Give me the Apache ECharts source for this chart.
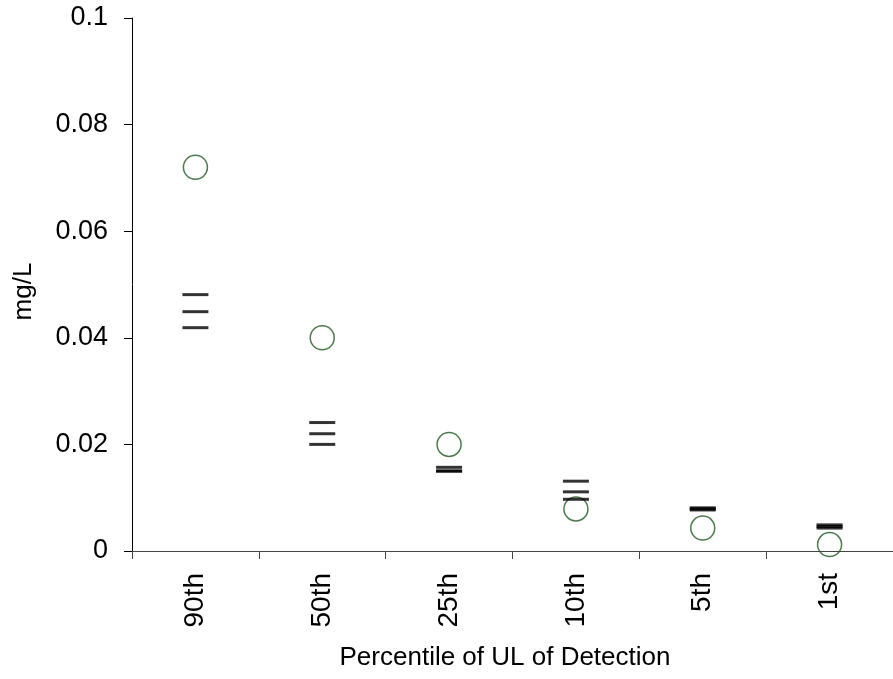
<!DOCTYPE html>
<html>
<head>
<meta charset="utf-8">
<style>
  html, body { margin: 0; padding: 0; background: #ffffff; }
  #chart { width: 893px; height: 679px; }
</style>
<script src="https://cdn.jsdelivr.net/npm/echarts@6/dist/echarts.min.js"></script>
</head>
<body>
<div id="chart"></div>
<script>
// Percentile categories along the x axis
const categories = ['90th', '50th', '25th', '10th', '5th', '1st'];

// Circle markers (mg/L)
const circleValues = [0.0720, 0.0400, 0.0200, 0.0079, 0.0043, 0.0012];

// Horizontal dash markers (mg/L): upper, middle, lower
const dashUpper  = [0.0481, 0.0241, 0.0157, 0.0131, 0.0081, 0.0049];
const dashMiddle = [0.0449, 0.0220, 0.0150, 0.0111, 0.0079, 0.0046];
const dashLower  = [0.0419, 0.0200, 0.0150, 0.0097, 0.0077, 0.0043];

// y axis ticks
const yMin = 0, yMax = 0.1, yStep = 0.02;

const font = 'Liberation Sans, Arial, sans-serif';

function dashSeries(values) {
  return {
    type: 'scatter',
    data: values,
    symbol: 'rect',
    symbolSize: [26, 3],
    itemStyle: { color: '#000000' },
    z: 5,
    silent: true
  };
}

const chart = echarts.init(document.getElementById('chart'), null, { renderer: 'canvas' });
chart.setOption({
  animation: false,
  backgroundColor: '#ffffff',
  grid: { left: 132, top: 18, width: 768, height: 533, containLabel: false },
  xAxis: {
    type: 'category',
    data: categories,
    boundaryGap: true,
    name: 'Percentile of UL of Detection',
    nameLocation: 'middle',
    nameGap: 94,
    nameTextStyle: { fontFamily: font, fontSize: 26, color: '#000', padding: [0, 15, 0, 0] },
    axisLine: { lineStyle: { color: '#444', width: 1 } },
    axisTick: { show: true, length: 8, lineStyle: { color: '#444' } },
    axisLabel: { rotate: 90, margin: 22, fontFamily: font, fontSize: 28, color: '#000' },
    splitLine: { show: false }
  },
  yAxis: {
    type: 'value',
    min: yMin,
    max: yMax,
    interval: yStep,
    name: 'mg/L',
    nameLocation: 'middle',
    nameGap: 95,
    nameTextStyle: { fontFamily: font, fontSize: 26, color: '#000', padding: [0, 14, 0, 0] },
    axisLine: { show: true, lineStyle: { color: '#000', width: 1 } },
    axisTick: { show: true, length: 8, lineStyle: { color: '#000' } },
    axisLabel: { margin: 24, fontFamily: font, fontSize: 27, color: '#000' },
    splitLine: { show: false }
  },
  series: [
    {
      type: 'scatter',
      data: circleValues,
      symbol: 'circle',
      symbolSize: 24,
      itemStyle: { color: 'rgba(255,255,255,0)', borderColor: '#1f5a1f', borderWidth: 1.5 },
      z: 3,
      silent: true
    },
    dashSeries(dashUpper),
    dashSeries(dashMiddle),
    dashSeries(dashLower)
  ]
});
</script>
</body>
</html>
